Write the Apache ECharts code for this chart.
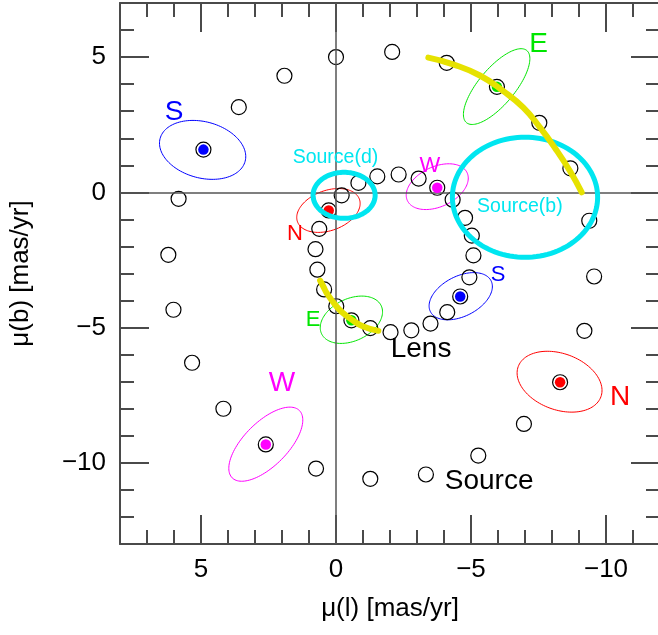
<!DOCTYPE html>
<html><head><meta charset="utf-8">
<script src="https://cdn.jsdelivr.net/npm/echarts@6/dist/echarts.min.js"></script>
<style>html,body{margin:0;padding:0;background:#fff}#c{width:658px;height:635px}</style>
</head><body><div id="c"></div>
<script>
// ---- data ----
const xMajor = [-10, -5, 0, 5];
const yMajor = [-10, -5, 0, 5];
const openPoints = [
  [0, 5.0], [1.91, 4.31], [3.60, 3.15], [5.83, -0.24], [6.21, -2.31], [6.02, -4.34],
  [5.33, -6.30], [4.17, -8.0], [0.74, -10.21], [-1.27, -10.59], [-3.33, -10.43],
  [-5.27, -9.73], [-6.96, -8.56], [-9.20, -5.12], [-9.56, -3.11], [-9.38, -1.05],
  [-8.68, 0.89], [-7.53, 2.57], [-4.10, 4.79], [-2.08, 5.19],
  [-0.21, -0.11], [-0.83, 0.35], [-1.53, 0.59], [-2.32, 0.66], [-3.06, 0.51],
  [-4.32, -0.27], [-4.78, -0.94], [-5.03, -1.60], [-5.09, -2.33], [-4.94, -3.14],
  [-4.12, -4.43], [-3.50, -4.85], [-2.79, -5.10], [-2.02, -5.17], [-1.27, -5.02],
  [-0.01, -4.21], [0.44, -3.59], [0.69, -2.86], [0.76, -2.10], [0.62, -1.35]
];
const pointS = [[4.91, 1.58], [-4.60, -3.85]];
const pointW = [[2.60, -9.32], [-3.75, 0.17]];
const pointN = [[-8.30, -7.02], [0.27, -0.67]];
const pointE = [[-5.96, 3.90], [-0.57, -4.73]];
// ellipses: [cx, cy, semi-major, semi-minor, tilt deg as seen]
const ellipseS = [[4.94, 1.57, 1.63, 1.04, -15], [-4.62, -3.84, 1.26, 0.74, 27]];
const ellipseW = [[2.60, -9.31, 1.76, 0.81, 45], [-3.75, 0.21, 1.22, 0.74, 25]];
const ellipseN = [[-8.28, -7.00, 1.63, 1.04, -20], [0.28, -0.67, 1.22, 0.74, 20]];
const ellipseE = [[-5.95, 3.91, 1.74, 0.67, 50], [-0.57, -4.71, 1.22, 0.78, 25]];
const sourceEllipses = [[-7.00, -0.18, 2.69, 2.22, 0], [-0.30, -0.11, 1.15, 0.85, 0]];
const arcUpper = [[-3.42, 4.98], [-4.34, 4.73], [-5.33, 4.32], [-6.20, 3.74], [-6.94, 3.13],
  [-7.56, 2.39], [-8.11, 1.64], [-8.67, 0.78], [-9.10, 0.0]];
const arcLower = [[0.59, -3.26], [0.47, -3.48], [0.34, -3.73], [-0.02, -4.22], [-0.27, -4.47],
  [-0.56, -4.69], [-1.01, -4.96], [-1.57, -5.12]];
const bigLabelS = [[6.0, 2.95, 'S'], [-6.0, -3.05, 'S']];
const bigLabelE = [[-7.5, 5.47, 'E'], [0.85, -4.71, 'E']];
const bigLabelW = [[2.0, -7.05, 'W'], [-3.48, 0.99, 'W']];
const bigLabelN = [[-10.52, -7.57, 'N'], [1.52, -1.53, 'N']];
const blackLabels = [[-3.15, -5.79, 'Lens'], [-5.67, -10.68, 'Source']];
const cyanLabels = [[0.02, 1.29, 'Source(d)'], [-6.81, -0.53, 'Source(b)']];

// ---- styles ----
const FONT = '"Liberation Sans", Arial, sans-serif';
const AX = '#4a4a4a';
const C = {S: '#0000ff', W: '#ff00ff', N: '#ff0000', E: '#00e600', cyan: '#00e6f0', yellow: '#e6e200'};
const fmt = v => (v < 0 ? '\u2212' + (-v) : String(v));

function xAxisDef(pos, major, labels) {
  const o = {
    type: 'value', min: -12, max: 8, inverse: true, position: pos,
    splitLine: {show: false},
    axisLine: {show: major, onZero: false, lineStyle: {color: AX, width: 2}},
    axisTick: {show: true, inside: true, length: major ? 29 : 14, lineStyle: {color: AX, width: 2}},
    axisLabel: {show: false}
  };
  if (major) {
    o.axisTick.customValues = xMajor;
    o.axisLabel = {show: labels, customValues: xMajor, formatter: fmt, fontSize: 26, color: '#000', fontFamily: FONT, margin: 13};
  } else { o.interval = 1; }
  if (labels) {
    o.name = '\u03bc(l) [mas/yr]'; o.nameLocation = 'middle'; o.nameGap = 52;
    o.nameTextStyle = {fontSize: 26, color: '#000', fontFamily: FONT, verticalAlign: 'top'};
  }
  return o;
}
function yAxisDef(pos, major, labels) {
  const o = {
    type: 'value', min: -13, max: 7, position: pos,
    splitLine: {show: false},
    axisLine: {show: major, onZero: false, lineStyle: {color: AX, width: 2}},
    axisTick: {show: true, inside: true, length: major ? 29 : 14, lineStyle: {color: AX, width: 2}},
    axisLabel: {show: false}
  };
  if (major) {
    o.axisTick.customValues = yMajor;
    o.axisLabel = {show: labels, customValues: yMajor, formatter: fmt, fontSize: 26, color: '#000', fontFamily: FONT, margin: 14};
  } else { o.interval = 1; }
  if (labels) {
    o.name = '\u03bc(b) [mas/yr]'; o.nameLocation = 'middle'; o.nameGap = 86; o.nameRotate = 90;
    o.nameTextStyle = {fontSize: 26, color: '#000', fontFamily: FONT};
  }
  return o;
}

function ellipseRender(color, width) {
  return function (params, api) {
    const cx = api.value(0), cy = api.value(1), a = api.value(2), b = api.value(3);
    const ang = api.value(4) * Math.PI / 180;
    const pts = [];
    const n = 120;
    for (let i = 0; i < n; i++) {
      const t = i / n * 2 * Math.PI;
      const sx = a * Math.cos(t) * Math.cos(ang) - b * Math.sin(t) * Math.sin(ang);
      const sy = a * Math.cos(t) * Math.sin(ang) + b * Math.sin(t) * Math.cos(ang);
      pts.push(api.coord([cx - sx, cy + sy])); // x axis is reversed
    }
    return {type: 'polygon', shape: {points: pts}, style: {fill: 'none', stroke: color, lineWidth: width}};
  };
}
function ellipseSeries(data, color, width, z) {
  return {type: 'custom', data: data, encode: {x: 0, y: 1}, renderItem: ellipseRender(color, width), z: z, silent: true, clip: true};
}
function labelSeries(data, color, size) {
  return {
    type: 'scatter', data: data, symbolSize: 1, itemStyle: {color: 'rgba(0,0,0,0)', opacity: 1}, z: 10, silent: true,
    label: {show: true, position: 'inside', formatter: p => p.value[2], color: color, opacity: 1,
      fontSize: size, fontFamily: FONT, textBorderWidth: 0}
  };
}
function bigSmall(data, color) {
  return [labelSeries([data[0]], color, 28), labelSeries([data[1]], color, 22)];
}
function dotSeries(data, color) {
  return {type: 'scatter', data: data, symbol: 'circle', symbolSize: 10.5, itemStyle: {color: color, opacity: 1}, z: 5, silent: true};
}

const chart = echarts.init(document.getElementById('c'), null, {renderer: 'canvas'});
chart.setOption({
  animation: false,
  backgroundColor: '#fff',
  grid: {left: 120, top: 3, width: 540, height: 541, outerBoundsMode: 'none', containLabel: false},
  xAxis: [xAxisDef('bottom', true, true), xAxisDef('bottom', false, false), xAxisDef('top', true, false), xAxisDef('top', false, false)],
  yAxis: [yAxisDef('left', true, true), yAxisDef('left', false, false), yAxisDef('right', true, false), yAxisDef('right', false, false)],
  series: [
    {type: 'scatter', data: [[0, 0]], symbolSize: 0, z: 1, silent: true,
     markLine: {silent: true, symbol: ['none', 'none'], label: {show: false}, animation: false,
       lineStyle: {color: '#555', width: 1.5, type: 'solid', opacity: 1}, data: [{xAxis: 0}, {yAxis: 0}]}},
    ellipseSeries(ellipseS, C.S, 1, 2),
    ellipseSeries(ellipseW, C.W, 1, 2),
    ellipseSeries(ellipseN, C.N, 1, 2),
    ellipseSeries(ellipseE, C.E, 1, 2),
    {type: 'scatter', data: openPoints.concat(pointS, pointW, pointN, pointE), symbol: 'circle', symbolSize: 15,
     itemStyle: {color: 'rgba(0,0,0,0)', borderColor: '#000', borderWidth: 1.2, opacity: 1}, z: 4, silent: true},
    dotSeries(pointS, C.S), dotSeries(pointW, C.W), dotSeries(pointN, C.N), dotSeries(pointE, C.E),
    ellipseSeries(sourceEllipses, C.cyan, 5, 6),
    {type: 'line', data: arcUpper, smooth: true, showSymbol: false, z: 7, silent: true,
     lineStyle: {color: C.yellow, width: 6, cap: 'round', opacity: 1}},
    {type: 'line', data: arcLower, smooth: true, showSymbol: false, z: 7, silent: true,
     lineStyle: {color: C.yellow, width: 6, cap: 'round', opacity: 1}},
    ...bigSmall(bigLabelS, C.S), ...bigSmall(bigLabelE, C.E), ...bigSmall(bigLabelW, C.W), ...bigSmall(bigLabelN, C.N),
    labelSeries(blackLabels, '#000', 28),
    labelSeries(cyanLabels, C.cyan, 19.5)
  ]
});
</script></body></html>
